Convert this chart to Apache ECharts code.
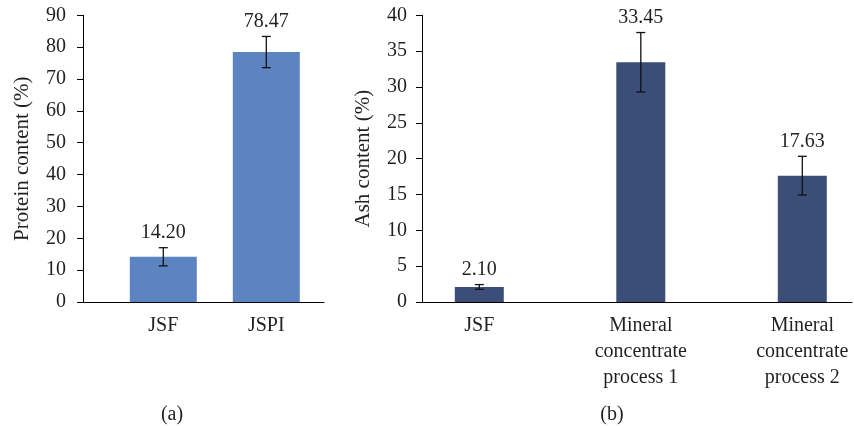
<!DOCTYPE html>
<html>
<head>
<meta charset="utf-8">
<script src="https://cdn.jsdelivr.net/npm/echarts@6/dist/echarts.min.js"></script>
<style>html,body{margin:0;padding:0;background:#fff}#c{width:854px;height:428px}</style>
</head>
<body>
<div id="c"></div>
<script>
const proteinCategories = ['JSF', 'JSPI'];
const proteinValues = [14.20, 78.47];
const proteinErrors = [2.85, 4.9];
const proteinAxis = { min: 0, max: 90, interval: 10 };

const ashCategories = ['JSF', 'Mineral\nconcentrate\nprocess 1', 'Mineral\nconcentrate\nprocess 2'];
const ashValues = [2.10, 33.45, 17.63];
const ashErrors = [0.33, 4.15, 2.7];
const ashAxis = { min: 0, max: 40, interval: 5 };

const FONT = '"Liberation Serif", "DejaVu Serif", serif';
const TXT = '#231f20';

function renderErr(params, api) {
  const x = api.value(0), v = api.value(1), e = api.value(2);
  const top = api.coord([x, v + e]);
  const bot = api.coord([x, v - e]);
  const cap = 4.5;
  const st = { stroke: '#111', lineWidth: 1.3 };
  return {
    type: 'group',
    children: [
      { type: 'line', shape: { x1: top[0], y1: top[1], x2: bot[0], y2: bot[1] }, style: st },
      { type: 'line', shape: { x1: top[0] - cap, y1: top[1], x2: top[0] + cap, y2: top[1] }, style: st },
      { type: 'line', shape: { x1: bot[0] - cap, y1: bot[1], x2: bot[0] + cap, y2: bot[1] }, style: st },
      { type: 'text', x: top[0], y: top[1] - 5,
        style: { text: v.toFixed(2), textAlign: 'center', textVerticalAlign: 'bottom',
                 font: '20px ' + FONT, fill: TXT } }
    ]
  };
}

const frameX = (gi) => ({
  gridIndex: gi, type: 'value', min: 0, max: 1,
  axisLine: { show: true, onZero: false, lineStyle: { color: '#000', width: 1 } },
  axisTick: { show: false }, axisLabel: { show: false }, splitLine: { show: false }
});
const frameY = (gi, ax, name, gap, margin) => ({
  gridIndex: gi, type: 'value', min: ax.min, max: ax.max, interval: ax.interval,
  axisLine: { show: true, lineStyle: { color: '#000', width: 1 } },
  axisTick: { show: true, length: 6, lineStyle: { color: '#000' } },
  axisLabel: { margin: margin, fontSize: 20, fontFamily: FONT, color: TXT },
  splitLine: { show: false },
  name: name, nameLocation: 'middle', nameGap: gap,
  nameTextStyle: { fontSize: 21, fontFamily: FONT, color: TXT }
});
const hiddenY = (gi, ax) => ({ gridIndex: gi, type: 'value', min: ax.min, max: ax.max, show: false });
const catX = (gi, data, bg) => ({
  gridIndex: gi, type: 'category', data: data, boundaryGap: bg,
  axisLine: { show: false }, axisTick: { show: false },
  axisLabel: { margin: 11, fontSize: 20, lineHeight: 26, fontFamily: FONT, color: TXT, interval: 0 }
});

const chart = echarts.init(document.getElementById('c'), null, { renderer: 'canvas' });
chart.setOption({
  animation: false,
  backgroundColor: '#fff',
  title: [
    { text: '(a)', left: 167, top: 400, textAlign: 'center',
      textStyle: { fontSize: 20, fontWeight: 'normal', fontFamily: FONT, color: TXT } },
    { text: '(b)', left: 607, top: 400, textAlign: 'center',
      textStyle: { fontSize: 20, fontWeight: 'normal', fontFamily: FONT, color: TXT } }
  ],
  grid: [
    { left: 83, top: 15.33, width: 241, height: 286.67 },
    { left: 111.8, top: 15.33, width: 206, height: 286.67 },
    { left: 422, top: 15.33, width: 430, height: 286.67 },
    { left: 479.3, top: 15.33, width: 323, height: 286.67 }
  ],
  xAxis: [frameX(0), catX(1, proteinCategories, true), frameX(2), catX(3, ashCategories, false)],
  yAxis: [
    frameY(0, proteinAxis, 'Protein content (%)', 50, 17),
    hiddenY(1, proteinAxis),
    frameY(2, ashAxis, 'Ash content (%)', 48, 15),
    hiddenY(3, ashAxis)
  ],
  series: [
    { type: 'bar', xAxisIndex: 1, yAxisIndex: 1, data: proteinValues, barWidth: 67,
      itemStyle: { color: '#5b84c0' } },
    { type: 'custom', xAxisIndex: 1, yAxisIndex: 1, renderItem: renderErr, encode: { x: 0, y: 1 },
      data: proteinValues.map((v, i) => [i, v, proteinErrors[i]]), z: 5 },
    { type: 'bar', xAxisIndex: 3, yAxisIndex: 3, data: ashValues, barWidth: 49,
      itemStyle: { color: '#3a4e78' } },
    { type: 'custom', xAxisIndex: 3, yAxisIndex: 3, renderItem: renderErr, encode: { x: 0, y: 1 },
      data: ashValues.map((v, i) => [i, v, ashErrors[i]]), z: 5 }
  ]
});
</script>
</body>
</html>
